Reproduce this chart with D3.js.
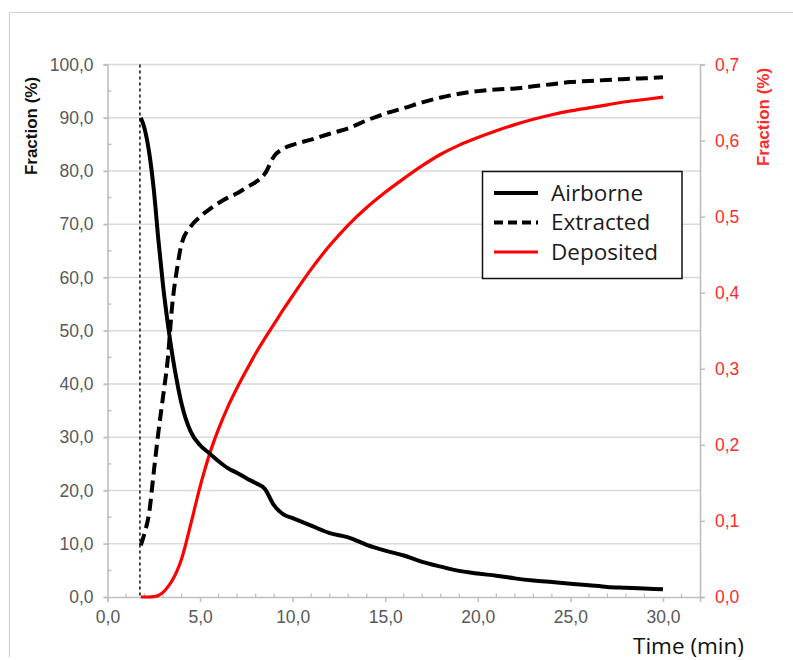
<!DOCTYPE html>
<html>
<head>
<meta charset="utf-8">
<script src="https://cdn.jsdelivr.net/npm/d3@7"></script>
<style>
  html, body { margin: 0; padding: 0; background: #fff; }
  svg { display: block; }
</style>
</head>
<body>
<svg id="chart" width="793" height="660"></svg>
<script>
// ---------- data ----------
const timeMin = [1.8, 2.0, 2.25, 2.5, 2.75, 3.0, 3.25, 3.5, 3.75, 4.0, 4.5, 5.0, 5.5, 6.0, 6.5, 7.0, 7.5, 8.0, 8.5, 9.0, 9.5, 10.0,
  11, 12, 13, 14, 15, 16, 17, 18, 19, 20, 21, 22, 23, 24, 25, 26, 27, 28, 29, 30];
const airborne = [90, 88, 83.5, 76.5, 67, 58.5, 51.5, 45.5, 40.5, 36.3, 31, 28.5, 27, 25.5, 24.2, 23.3, 22.3, 21.4, 20.3, 17.2, 15.5, 14.8,
  13.4, 12.0, 11.2, 9.8, 8.7, 7.8, 6.6, 5.7, 4.9, 4.4, 4.0, 3.5, 3.1, 2.8, 2.5, 2.2, 1.9, 1.75, 1.6, 1.45];
const extracted = [9.7, 12, 15.8, 23.5, 31, 37.6, 44.5, 55, 61.5, 66.3, 69.6, 71.4, 72.8, 74.0, 75.0, 75.8, 76.9, 77.9, 79.5, 82.8, 84.2, 84.9,
  85.9, 87.0, 88.0, 89.5, 90.8, 91.8, 92.9, 93.8, 94.5, 95.0, 95.3, 95.5, 95.9, 96.3, 96.7, 96.9, 97.1, 97.3, 97.4, 97.6];
const deposited = [0, 0, 0, 0.0005, 0.002, 0.006, 0.013, 0.022, 0.034, 0.050, 0.096, 0.145, 0.187, 0.221, 0.250, 0.275, 0.298, 0.320, 0.340, 0.359, 0.378, 0.396,
  0.431, 0.462, 0.489, 0.512, 0.532, 0.550, 0.567, 0.582, 0.594, 0.604, 0.613, 0.621, 0.628, 0.634, 0.639, 0.643, 0.647, 0.651, 0.654, 0.657];
const injectionTime = 1.75;
const xTicks = [0, 5, 10, 15, 20, 25, 30];
const yLeftTicks = [0, 10, 20, 30, 40, 50, 60, 70, 80, 90, 100];
const yRightTicks = [0, 0.1, 0.2, 0.3, 0.4, 0.5, 0.6, 0.7];
const seriesNames = ["Airborne", "Extracted", "Deposited"];
const leftTitle = "Fraction (%)";
const rightTitle = "Fraction (%)";
const xTitle = "Time (min)";

// ---------- layout ----------
const svg = d3.select("#chart");
const L = 107.5, R = 700, T = 64.5, B = 597;
const x = d3.scaleLinear().domain([0, 32]).range([L, R]);
const yL = d3.scaleLinear().domain([0, 100]).range([B, T]);
const yR = d3.scaleLinear().domain([0, 0.7]).range([B, T]);
const fmt1 = v => d3.format(".1f")(v).replace(".", ",");

const axisColor = "#bfbfbf", gridColor = "#d9d9d9", labelColor = "#595959", red = "#ff0000";
const tickFont = "Liberation Sans, Arial, sans-serif";

// outer frame (top + left lines)
svg.append("line").attr("x1", 9.5).attr("x2", 793).attr("y1", 12.5).attr("y2", 12.5).attr("stroke", "#d0d0d0").attr("stroke-width", 1.2);
svg.append("line").attr("x1", 9.5).attr("x2", 9.5).attr("y1", 12.5).attr("y2", 657).attr("stroke", "#d0d0d0").attr("stroke-width", 1.2);

// gridlines
svg.append("g").selectAll("line").data(yLeftTicks.filter(d => d > 0)).join("line")
  .attr("x1", L - 4).attr("x2", R).attr("y1", d => yL(d)).attr("y2", d => yL(d))
  .attr("stroke", gridColor).attr("stroke-width", 1.6);

// left axis
const gLeft = svg.append("g").attr("transform", `translate(${L},0)`)
  .call(d3.axisLeft(yL).tickValues(yLeftTicks).tickFormat(fmt1).tickSize(4).tickPadding(10));
gLeft.select(".domain").attr("stroke", axisColor).attr("stroke-width", 1.6);
gLeft.selectAll(".tick line").attr("stroke", axisColor).attr("stroke-width", 1.6);
gLeft.selectAll(".tick text").attr("fill", labelColor).style("font-family", tickFont).style("font-size", "17.5px");
// left minor ticks (inside)
svg.append("g").selectAll("line").data(d3.range(5, 100, 10)).join("line")
  .attr("x1", L).attr("x2", L + 4).attr("y1", d => yL(d)).attr("y2", d => yL(d))
  .attr("stroke", axisColor).attr("stroke-width", 1.4);

// right axis
const gRight = svg.append("g").attr("transform", `translate(${R},0)`)
  .call(d3.axisRight(yR).tickValues(yRightTicks).tickFormat(fmt1).tickSize(5).tickPadding(10));
gRight.select(".domain").attr("stroke", axisColor).attr("stroke-width", 1.6);
gRight.selectAll(".tick line").attr("stroke", axisColor).attr("stroke-width", 1.6);
gRight.selectAll(".tick text").attr("fill", "#ff2a2a").style("font-family", tickFont).style("font-size", "17.5px");

// bottom axis
const gBottom = svg.append("g").attr("transform", `translate(0,${B})`)
  .call(d3.axisBottom(x).tickValues(xTicks).tickFormat(fmt1).tickSize(5).tickPadding(9));
gBottom.select(".domain").attr("stroke", axisColor).attr("stroke-width", 1.6);
gBottom.selectAll(".tick line").attr("stroke", axisColor).attr("stroke-width", 1.6);
gBottom.selectAll(".tick text").attr("fill", labelColor).style("font-family", tickFont).style("font-size", "17.5px");
// bottom minor ticks (inside)
svg.append("g").selectAll("line").data(d3.range(1, 32).filter(d => d % 5 !== 0)).join("line")
  .attr("x1", d => x(d)).attr("x2", d => x(d)).attr("y1", B).attr("y2", B - 3.5)
  .attr("stroke", axisColor).attr("stroke-width", 1.3);

// axis titles
svg.append("text").attr("transform", `translate(37,126) rotate(-90)`)
  .attr("text-anchor", "middle").style("font-family", tickFont).style("font-weight", "bold")
  .style("font-size", "17px").attr("fill", "#111").text(leftTitle);
svg.append("text").attr("transform", `translate(769,117) rotate(-90)`)
  .attr("text-anchor", "middle").style("font-family", tickFont).style("font-weight", "bold")
  .style("font-size", "17px").attr("fill", "#ff2a2a").text(rightTitle);
svg.append("text").attr("x", 633).attr("y", 654)
  .style("font-family", "'Open Sans', sans-serif").style("font-size", "22.5px").attr("fill", "#111").text(xTitle);

// injection marker
svg.append("line").attr("x1", x(injectionTime)).attr("x2", x(injectionTime)).attr("y1", T).attr("y2", B)
  .attr("stroke", "#333").attr("stroke-width", 1.8).attr("stroke-dasharray", "3,3");

// series
const idx = d3.range(timeMin.length);
const lineL = arr => d3.line().x(i => x(timeMin[i])).y(i => yL(arr[i])).curve(d3.curveMonotoneX)(idx);
const lineR = arr => d3.line().x(i => x(timeMin[i])).y(i => yR(arr[i])).curve(d3.curveMonotoneX)(idx);

svg.append("path").attr("d", lineR(deposited)).attr("fill", "none").attr("stroke", red).attr("stroke-width", 3.2);
svg.append("path").attr("d", lineL(extracted)).attr("fill", "none").attr("stroke", "#000").attr("stroke-width", 4)
  .attr("stroke-dasharray", "12,6");
svg.append("path").attr("d", lineL(airborne)).attr("fill", "none").attr("stroke", "#000").attr("stroke-width", 4);

// legend
const lg = svg.append("g");
lg.append("rect").attr("x", 482.5).attr("y", 171.5).attr("width", 199.5).attr("height", 107)
  .attr("fill", "#fff").attr("stroke", "#111").attr("stroke-width", 1.5);
const legendStyles = [
  { stroke: "#000", dash: null, w: 4 },
  { stroke: "#000", dash: "9,5", w: 4 },
  { stroke: red, dash: null, w: 3.2 }
];
seriesNames.forEach((name, i) => {
  const cy = 193 + i * 29.5;
  lg.append("line").attr("x1", 494).attr("x2", 538).attr("y1", cy).attr("y2", cy)
    .attr("stroke", legendStyles[i].stroke).attr("stroke-width", legendStyles[i].w)
    .attr("stroke-dasharray", legendStyles[i].dash);
  lg.append("text").attr("x", 551).attr("y", cy).attr("dy", "0.35em")
    .style("font-family", "'Open Sans', sans-serif").style("font-size", "22.5px").attr("fill", "#1a1a1a").text(name);
});
</script>
</body>
</html>
